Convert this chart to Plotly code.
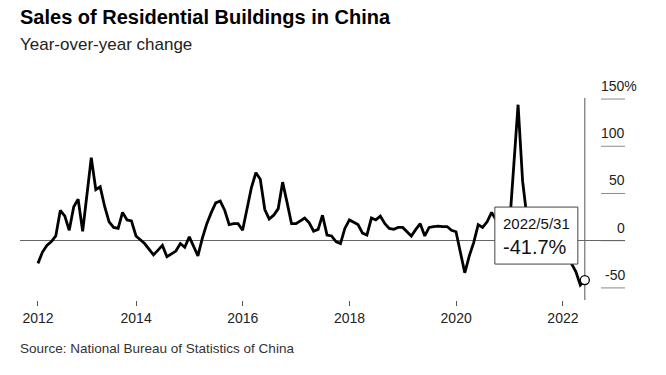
import pandas as pd
import plotly.graph_objects as go

# ---- data (year-over-year % change, Jan-Feb combined reported in Feb) ----
months = [2, 3, 4, 5, 6, 7, 8, 9, 10, 11, 12]
yoy_2012 = [-24, -12, -5, -1, 5, 32, 26, 11, 36, 44, 10]
yoy_2013 = [88, 54, 57, 36, 20, 14, 13, 30, 22, 21, 5]
yoy_2014 = [-3, -9, -15, -10, -5, -17, -14, -11, -3, -7, 4]
yoy_2015 = [-16, 3, 18, 30, 40, 42, 32, 17, 18, 18, 11]
yoy_2016 = [56, 72, 65, 33, 23, 27, 34, 62, 40, 18, 18]
yoy_2017 = [24, 19, 10, 12, 27, 6, 5, -1, -3, 13, 22]
yoy_2018 = [17, 8, 6, 24, 22, 26, 18, 13, 12, 14, 14]
yoy_2019 = [5, 12, 18, 5, 14, 15, 15.5, 15, 15, 11, 9.5]
yoy_2020 = [-34, -16, -2, 17, 14, 20, 30, 22, 22, 20, 15]
yoy_2021 = [144, 63, 24, 12, 8, -8, -19, -16, -22, -17, -18]
yoy_2022 = [-24, -33, -47, -41.7]

series_by_year = {
    2012: yoy_2012, 2013: yoy_2013, 2014: yoy_2014, 2015: yoy_2015,
    2016: yoy_2016, 2017: yoy_2017, 2018: yoy_2018, 2019: yoy_2019,
    2020: yoy_2020, 2021: yoy_2021, 2022: yoy_2022,
}

x_tick_dates = ["2012-02-29", "2014-01-01", "2016-01-01", "2018-01-01", "2020-01-01", "2022-01-01"]
x_tick_text = ["2012", "2014", "2016", "2018", "2020", "2022"]
y_tick_vals = [150, 100, 50, 0, -50]
y_tick_text = ["150%", "100", "50", "0", "-50"]

title_text = "Sales of Residential Buildings in China"
subtitle_text = "Year-over-year change"
source_text = "Source: National Bureau of Statistics of China"

# ---- build series ----
dates, values = [], []
for yr, vals in series_by_year.items():
    for m, v in zip(months, vals):
        dates.append(pd.Timestamp(year=yr, month=m, day=1) + pd.offsets.MonthEnd(0))
        values.append(v)
last_date, last_val = dates[-1], values[-1]

FONT = "Liberation Sans, Arial, sans-serif"
W, H = 666, 375
PLOT_LEFT, PLOT_RIGHT, PLOT_TOP, PLOT_BOTTOM = 20, 625, 98, 300  # page pixels
L = PLOT_LEFT
R = W - PLOT_RIGHT
T = PLOT_TOP
B = H - PLOT_BOTTOM
plot_h = PLOT_BOTTOM - PLOT_TOP
plot_w = PLOT_RIGHT - PLOT_LEFT

def py(px):  # page pixel row -> paper y
    return (PLOT_BOTTOM - px) / plot_h

fig = go.Figure()
fig.add_trace(go.Scatter(x=dates, y=values, mode="lines",
                         line=dict(color="#000000", width=2.8), hoverinfo="skip"))
fig.add_trace(go.Scatter(x=[last_date], y=[last_val], mode="markers",
                         marker=dict(size=9, color="white", line=dict(color="#000000", width=1.3)),
                         hoverinfo="skip"))

shapes = []
for v in y_tick_vals:
    shapes.append(dict(type="line", xref="paper", yref="y", x0=(601 - PLOT_LEFT) / plot_w, x1=1,
                       y0=v, y1=v, line=dict(color="#8a8a8a", width=1), layer="below"))
shapes.append(dict(type="line", xref="x", yref="paper", x0=last_date, x1=last_date,
                   y0=0, y1=1, line=dict(color="#555555", width=1), layer="below"))
shapes.append(dict(type="rect", xref="x", yref="y", xsizemode="pixel", ysizemode="pixel",
                   xanchor=last_date, yanchor=last_val, x0=-90, x1=-7, y0=16, y1=73,
                   fillcolor="white", line=dict(color="#444444", width=1), layer="above"))

annotations = []
for v, t in zip(y_tick_vals, y_tick_text):
    annotations.append(dict(xref="paper", yref="y", x=1, y=v, text=t, showarrow=False,
                            xanchor="right", yanchor="bottom", yshift=3,
                            xshift=(14 if t.endswith("%") else 2),
                            font=dict(family=FONT, size=14, color="#222222")))
annotations += [
    dict(xref="x", yref="y", x=last_date, y=last_val, text="2022/5/31", showarrow=False,
         xanchor="left", yanchor="middle", xshift=-84, yshift=57,
         font=dict(family=FONT, size=15, color="#111111")),
    dict(xref="x", yref="y", x=last_date, y=last_val, text=f"{last_val}%", showarrow=False,
         xanchor="left", yanchor="middle", xshift=-84, yshift=33,
         font=dict(family=FONT, size=20, color="#111111")),
    dict(xref="paper", yref="paper", x=0, y=py(17), text=f"<b>{title_text}</b>", showarrow=False,
         xanchor="left", yanchor="middle", xshift=-2,
         font=dict(family=FONT, size=20, color="#000000")),
    dict(xref="paper", yref="paper", x=0, y=py(44), text=subtitle_text, showarrow=False,
         xanchor="left", yanchor="middle", xshift=-2,
         font=dict(family=FONT, size=17, color="#222222")),
    dict(xref="paper", yref="paper", x=0, y=py(348), text=source_text, showarrow=False,
         xanchor="left", yanchor="middle", xshift=-2,
         font=dict(family=FONT, size=13.5, color="#333333")),
]

fig.update_layout(
    width=W, height=H, margin=dict(l=L, r=R, t=T, b=B),
    paper_bgcolor="white", plot_bgcolor="white", showlegend=False,
    shapes=shapes, annotations=annotations,
    xaxis=dict(type="date", range=["2011-10-29", "2023-03-02"], tickvals=x_tick_dates,
               ticktext=x_tick_text, ticks="outside", ticklen=5, tickcolor="#555555",
               tickwidth=1, showgrid=False, showline=False, zeroline=False,
               tickfont=dict(family=FONT, size=14, color="#222222")),
    yaxis=dict(range=[-62.8, 151.1], showticklabels=False, showgrid=False, showline=False,
               zeroline=True, zerolinecolor="#666666", zerolinewidth=1, ticks=""),
)

fig.write_html("out.html", config={"displayModeBar": False},
               post_script="document.body.style.margin='0';document.body.style.overflow='hidden';")
